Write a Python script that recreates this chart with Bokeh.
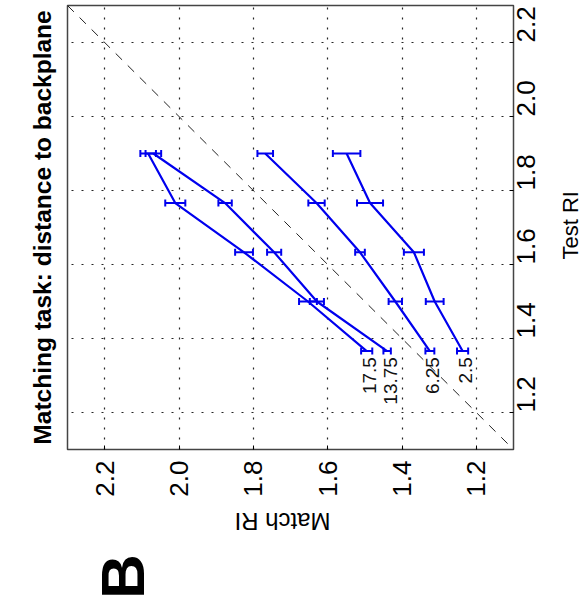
import math
from bokeh.plotting import figure
from bokeh.layouts import column, row
from bokeh.models import (Range1d, FixedTicker, PrintfTickFormatter,
                          Whisker, TeeHead, ColumnDataSource, Slope)
from bokeh.core.properties import value
from bokeh.embed import file_html
from bokeh.resources import INLINE

# ---------------- data ----------------
test_ri = [1.366, 1.5, 1.633, 1.766, 1.9]
series_names = ["17.5", "13.75", "6.25", "2.5"]
match_17_5 = [1.495, 1.653, 1.825, 2.010, 2.083]
err_17_5 = [0.015, 0.024, 0.024, 0.027, 0.021]
match_13_75 = [1.440, 1.629, 1.744, 1.876, 2.069]
err_13_75 = [0.010, 0.019, 0.019, 0.018, 0.021]
match_6_25 = [1.325, 1.418, 1.513, 1.630, 1.768]
err_6_25 = [0.012, 0.018, 0.013, 0.022, 0.021]
match_2_5 = [1.237, 1.312, 1.368, 1.486, 1.549]
err_2_5 = [0.015, 0.024, 0.027, 0.035, 0.037]
tick_values = [1.2, 1.4, 1.6, 1.8, 2.0, 2.2]
match_range = (2.3, 1.1)   # shown reversed (the whole figure is rotated)
test_range = (1.1, 2.3)

title_text = "Matching task: distance to backplane"
xlabel = "Match RI"
ylabel = "Test RI"
panel_letter = "B"

# ---------------- layout ----------------
W, H = 583, 611
MAIN_W, MAIN_H = 555, 505
BL, BR, BT, BB = 67, 42, 5, 56
FONT = "Liberation Sans"
BLUE = "#0000ee"

p = figure(width=MAIN_W, height=MAIN_H,
           x_range=Range1d(*match_range), y_range=Range1d(*test_range),
           output_backend="svg", toolbar_location=None,
           x_axis_location="below", y_axis_location="right",
           min_border_left=BL, min_border_right=BR,
           min_border_top=BT, min_border_bottom=BB,
           title=title_text, title_location="left")

p.background_fill_color = "white"
p.border_fill_color = "white"
p.outline_line_color = "#444444"
p.outline_line_width = 1.5

p.title.text_font = FONT
p.title.text_font_size = "24.5px"
p.title.text_font_style = "bold"
p.title.align = "center"
p.title.standoff = 23
p.title.text_color = "black"

ticker = FixedTicker(ticks=tick_values)
fmt = PrintfTickFormatter(format="%.1f")

for ax, standoff in ((p.xaxis[0], 11), (p.yaxis[0], 12)):
    ax.ticker = ticker
    ax.formatter = fmt
    ax.axis_line_color = None
    ax.major_tick_in = 4
    ax.major_tick_out = 0
    ax.minor_tick_in = 0
    ax.minor_tick_out = 0
    ax.major_tick_line_color = "black"
    ax.major_label_text_font = FONT
    ax.major_label_text_color = "black"
    ax.major_label_text_font_size = "26px"
    ax.major_label_orientation = math.pi / 2
    ax.major_label_standoff = standoff

for g in (p.xgrid[0], p.ygrid[0]):
    g.ticker = ticker
    g.grid_line_color = "black"
    g.grid_line_dash = "2 8"
    g.grid_line_width = 1.2
    g.grid_line_alpha = 0.85

# identity line
p.add_layout(Slope(gradient=1, y_intercept=0, line_color="#222222",
                   line_dash="9 8", line_width=1))

series = [(match_17_5, err_17_5), (match_13_75, err_13_75),
          (match_6_25, err_6_25), (match_2_5, err_2_5)]

for m, e in series:
    p.line(m, test_ri, line_color=BLUE, line_width=2.2)
    src = ColumnDataSource(dict(base=test_ri,
                                lower=[a - b for a, b in zip(m, e)],
                                upper=[a + b for a, b in zip(m, e)]))
    w = Whisker(source=src, base="base", lower="lower", upper="upper",
                dimension="width", line_color=BLUE, line_width=2)
    w.upper_head = TeeHead(size=7, line_color=BLUE, line_width=2)
    w.lower_head = TeeHead(size=7, line_color=BLUE, line_width=2)
    p.add_layout(w)

lab_src = ColumnDataSource(dict(x=[m[0] for m, _ in series],
                                y=[test_ri[0]] * len(series),
                                text=series_names))
p.text("x", "y", "text", source=lab_src, angle=math.pi / 2,
       text_align="right", text_baseline="middle", x_offset=3, y_offset=6,
       text_font=value(FONT), text_font_size="19px", text_color="#111111")


def text_panel(w, h):
    f = figure(width=w, height=h, x_range=Range1d(0, w), y_range=Range1d(h, 0),
               output_backend="svg", toolbar_location=None, min_border=0,
               title=None)
    f.axis.visible = False
    f.grid.visible = False
    f.outline_line_color = None
    f.background_fill_color = "white"
    f.border_fill_color = "white"
    return f


# strip on the right: axis title of the (vertical) Test RI axis
p_right = text_panel(W - MAIN_W, MAIN_H)
p_right.text(x=[15], y=[250], text=[ylabel], angle=math.pi / 2,
             text_align="center", text_baseline="middle",
             text_font=value(FONT), text_font_size="22px", text_color="black")

# strip at the bottom: Match RI axis title (upside down) and panel letter
p_bottom = text_panel(W, H - MAIN_H)
p_bottom.text(x=[282], y=[16], text=[xlabel], angle=math.pi,
              text_align="center", text_baseline="middle",
              text_font=value(FONT), text_font_size="24px", text_color="black")
p_bottom.text(x=[122], y=[71], text=[panel_letter], angle=math.pi / 2,
              text_align="center", text_baseline="middle",
              text_font=value(FONT), text_font_size="62px",
              text_font_style="bold", text_color="black")

layout = column(row(p, p_right, spacing=0), p_bottom, spacing=0)
open("out.html", "w").write(file_html(layout, INLINE))
